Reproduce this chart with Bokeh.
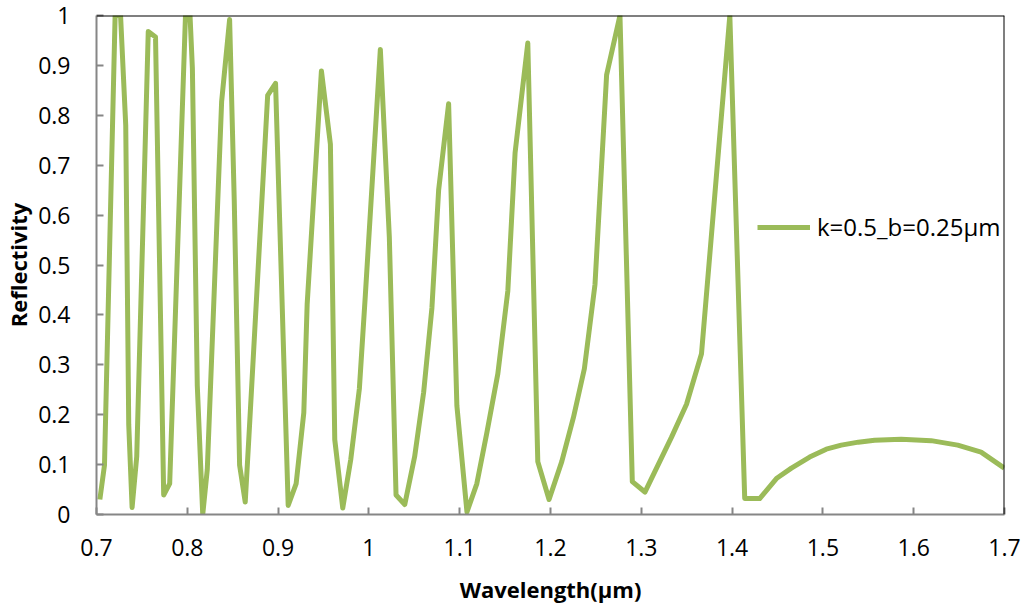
from bokeh.plotting import figure
from bokeh.models import Span, Legend, LegendItem, FixedTicker, Range1d
from bokeh.embed import file_html
from bokeh.resources import INLINE

series_name = "k=0.5_b=0.25μm"

wavelength = [0.7037, 0.7088, 0.7205, 0.7265, 0.7322, 0.7355, 0.7392, 0.7443, 0.7570, 0.7650,
              0.7740, 0.7806, 0.7980, 0.8030, 0.8056, 0.8110, 0.8170, 0.8220, 0.8378, 0.8466,
              0.8517, 0.8576, 0.8638, 0.8679, 0.8885, 0.8972, 0.9063, 0.9111, 0.9199, 0.9283,
              0.9320, 0.9477, 0.9576, 0.9624, 0.9712, 0.9800, 0.9895, 0.9961, 1.0126, 1.0225,
              1.0299, 1.0395, 1.0504, 1.0603, 1.0694, 1.0768, 1.0878, 1.0969, 1.1080, 1.1189,
              1.1299, 1.1420, 1.1530, 1.1610, 1.1750, 1.1860, 1.1984, 1.2124, 1.2252, 1.2373,
              1.2490, 1.2618, 1.2765, 1.2901, 1.3040, 1.3333, 1.3498, 1.3663, 1.3975, 1.4139,
              1.4304, 1.4488, 1.4653, 1.4854, 1.5037, 1.5202, 1.5390, 1.5569, 1.5862, 1.6192,
              1.6485, 1.6742, 1.6998]
reflectivity = [0.030, 0.099, 1.000, 1.000, 0.780, 0.180, 0.014, 0.116, 0.968, 0.957,
                0.039, 0.062, 1.000, 1.000, 0.894, 0.258, 0.000, 0.090, 0.827, 0.992,
                0.630, 0.099, 0.025, 0.157, 0.840, 0.864, 0.310, 0.018, 0.062, 0.204,
                0.421, 0.889, 0.742, 0.150, 0.013, 0.110, 0.252, 0.440, 0.932, 0.556,
                0.039, 0.020, 0.116, 0.245, 0.414, 0.650, 0.823, 0.218, 0.005, 0.062,
                0.164, 0.282, 0.448, 0.725, 0.945, 0.106, 0.030, 0.106, 0.194, 0.292,
                0.461, 0.881, 1.000, 0.066, 0.045, 0.155, 0.221, 0.322, 1.000, 0.032,
                0.032, 0.072, 0.093, 0.115, 0.131, 0.139, 0.145, 0.149, 0.151, 0.148,
                0.139, 0.125, 0.093]

x_ticks = [0.7, 0.8, 0.9, 1.0, 1.1, 1.2, 1.3, 1.4, 1.5, 1.6, 1.7]
x_tick_labels = ["0.7", "0.8", "0.9", "1", "1.1", "1.2", "1.3", "1.4", "1.5", "1.6", "1.7"]
y_ticks = [0.0, 0.1, 0.2, 0.3, 0.4, 0.5, 0.6, 0.7, 0.8, 0.9, 1.0]
y_tick_labels = ["0", "0.1", "0.2", "0.3", "0.4", "0.5", "0.6", "0.7", "0.8", "0.9", "1"]

x_title = "Wavelength(μm)"
y_title = "Reflectivity"

FONT = "Open Sans"
GREEN = "#9BBB59"
AXIS_GREY = "#868686"

p = figure(width=1024, height=607, output_backend="svg", toolbar_location=None,
           x_range=Range1d(x_ticks[0], x_ticks[-1]), y_range=Range1d(y_ticks[0], y_ticks[-1]),
           min_border_left=94, min_border_right=20, min_border_top=15, min_border_bottom=93)
p.outline_line_color = None
p.background_fill_color = "white"
p.xgrid.visible = False
p.ygrid.visible = False

r = p.line(wavelength, reflectivity, line_color=GREEN, line_width=5, line_join="round")

for ax, ticks, labels in ((p.xaxis[0], x_ticks, x_tick_labels), (p.yaxis[0], y_ticks, y_tick_labels)):
    ax.ticker = FixedTicker(ticks=ticks)
    ax.major_label_overrides = {t: l for t, l in zip(ticks, labels)}
    ax.axis_line_color = AXIS_GREY
    ax.axis_line_width = 2
    ax.major_tick_line_color = AXIS_GREY
    ax.major_tick_line_width = 2
    ax.major_tick_in = 7
    ax.major_tick_out = 0
    ax.minor_tick_line_color = None
    ax.major_label_text_font = FONT
    ax.major_label_text_font_size = "23px"
    ax.major_label_text_color = "black"
    ax.axis_label_text_font = FONT
    ax.axis_label_text_font_size = "22px"
    ax.axis_label_text_font_style = "bold"
    ax.axis_label_text_color = "black"

p.xaxis.axis_label = x_title
p.yaxis.axis_label = y_title
p.xaxis.major_label_standoff = 24
p.yaxis.major_label_standoff = 26
p.xaxis.axis_label_standoff = 15
p.yaxis.axis_label_standoff = 2

p.add_layout(Span(location=y_ticks[-1], dimension="width", line_color="black", line_width=2))
p.add_layout(Span(location=x_ticks[-1], dimension="height", line_color="black", line_width=2))

legend = Legend(items=[LegendItem(label=series_name, renderers=[r])], location=(661, 271),
                padding=0, margin=0, glyph_width=53, glyph_height=20, label_standoff=7,
                border_line_color=None, background_fill_alpha=0,
                label_text_font=FONT, label_text_font_size="24px", label_text_color="black")
p.add_layout(legend, "center")

open("out.html", "w").write(file_html(p, INLINE))
